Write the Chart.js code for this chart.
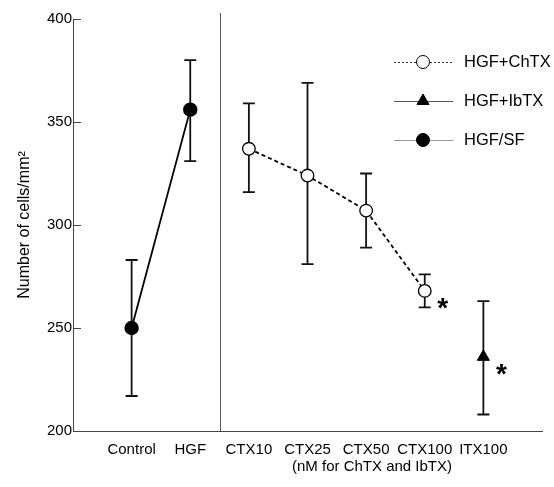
<!DOCTYPE html>
<html>
<head>
<meta charset="utf-8">
<script src="https://cdn.jsdelivr.net/npm/chart.js@4"></script>
<style>
  body { margin: 0; background: #fff; }
</style>
</head>
<body>
<canvas id="chart" width="554" height="487"></canvas>
<script>
// categories on the x axis
const categories = ["Control", "HGF", "CTX10", "CTX25", "CTX50", "CTX100", "ITX100"];
const yTicks = [200, 250, 300, 350, 400];

// HGF/SF
const hgfCats = ["Control", "HGF"];
const hgfMean = [250, 356];
const hgfHigh = [283, 380];
const hgfLow = [217, 331];

// HGF+ChTX
const chtxCats = ["CTX10", "CTX25", "CTX50", "CTX100"];
const chtxMean = [337, 324, 307, 268];
const chtxHigh = [359, 369, 325, 276];
const chtxLow = [316, 281, 289, 260];

// HGF+IbTX
const ibtxCats = ["ITX100"];
const ibtxMean = [236];
const ibtxHigh = [263];
const ibtxLow = [208];

// significant points
const starCats = ["CTX100", "ITX100"];
const starVals = [268, 236];

const FONT = "'Liberation Sans', Arial, sans-serif";

function toPoints(cats, vals) {
  return cats.map((c, i) => ({ x: categories.indexOf(c), y: vals[i] }));
}

// error bars behind markers
const errorBars = {
  id: "errorBars",
  beforeDatasetsDraw(chart) {
    const ctx = chart.ctx;
    const xs = chart.scales.x, ys = chart.scales.y;
    ctx.save();
    ctx.strokeStyle = "#111";
    ctx.lineWidth = 1.8;
    chart.data.datasets.forEach((ds) => {
      ds.data.forEach((p, i) => {
        const x = xs.getPixelForValue(p.x);
        const top = ys.getPixelForValue(ds.errHigh[i]);
        const bot = ys.getPixelForValue(ds.errLow[i]);
        ctx.beginPath();
        ctx.moveTo(x, top); ctx.lineTo(x, bot);
        ctx.moveTo(x - 6, top); ctx.lineTo(x + 6, top);
        ctx.moveTo(x - 6, bot); ctx.lineTo(x + 6, bot);
        ctx.stroke();
      });
    });
    // divider between HGF and CTX groups
    const dx = Math.round(xs.getPixelForValue(1.5)) + 0.5;
    ctx.strokeStyle = "#555";
    ctx.lineWidth = 1;
    ctx.beginPath();
    ctx.moveTo(dx, chart.chartArea.top - 6);
    ctx.lineTo(dx, chart.chartArea.bottom);
    ctx.stroke();
    ctx.restore();
  }
};

// legend, asterisks and the x axis note
const extras = {
  id: "extras",
  afterDraw(chart) {
    const ctx = chart.ctx;
    const xs = chart.scales.x, ys = chart.scales.y;
    ctx.save();

    const items = [
      { text: "HGF+ChTX", dash: [2, 2], line: "#333", style: "circle", r: 6.5, fill: "#fff" },
      { text: "HGF+IbTX", dash: [], line: "#555", style: "triangle", r: 7, fill: "#000" },
      { text: "HGF/SF", dash: [], line: "#999", style: "circle", r: 6.5, fill: "#000" }
    ];
    items.forEach((it, i) => {
      const y = 62 + i * 39;
      ctx.setLineDash(it.dash);
      ctx.strokeStyle = it.line;
      ctx.lineWidth = 1;
      ctx.beginPath();
      ctx.moveTo(394, y + 0.5); ctx.lineTo(453, y + 0.5);
      ctx.stroke();
      ctx.setLineDash([]);
      ctx.fillStyle = it.fill;
      ctx.strokeStyle = "#000";
      Chart.helpers.drawPoint(ctx, { pointStyle: it.style, radius: it.r, rotation: 0, borderWidth: 1 }, 423, y);
      ctx.fillStyle = "#000";
      ctx.font = "16.5px " + FONT;
      ctx.textBaseline = "middle";
      ctx.textAlign = "left";
      ctx.fillText(it.text, 464, y);
    });

    ctx.font = "bold 28px " + FONT;
    ctx.textAlign = "center";
    ctx.textBaseline = "alphabetic";
    starCats.forEach((c, i) => {
      const x = xs.getPixelForValue(categories.indexOf(c)) + 18;
      const y = ys.getPixelForValue(starVals[i]) + 26;
      ctx.fillText("*", x, y);
    });

    ctx.font = "15px " + FONT;
    ctx.textBaseline = "middle";
    ctx.fillText("(nM for ChTX and IbTX)", xs.getPixelForValue(4.1), 467);
    ctx.restore();
  }
};

new Chart(document.getElementById("chart"), {
  type: "scatter",
  data: {
    datasets: [
      {
        label: "HGF/SF",
        data: toPoints(hgfCats, hgfMean),
        errHigh: hgfHigh, errLow: hgfLow,
        showLine: true,
        borderColor: "#000",
        borderWidth: 1.8,
        pointStyle: "circle",
        pointRadius: 6.3,
        pointBackgroundColor: "#000",
        pointBorderColor: "#000"
      },
      {
        label: "HGF+ChTX",
        data: toPoints(chtxCats, chtxMean),
        errHigh: chtxHigh, errLow: chtxLow,
        showLine: true,
        borderColor: "#000",
        borderWidth: 1.8,
        borderDash: [4, 3],
        pointStyle: "circle",
        pointRadius: 6.3,
        pointBackgroundColor: "#fff",
        pointBorderColor: "#000",
        pointBorderWidth: 1.3
      },
      {
        label: "HGF+IbTX",
        data: toPoints(ibtxCats, ibtxMean),
        errHigh: ibtxHigh, errLow: ibtxLow,
        showLine: false,
        pointStyle: "triangle",
        pointRadius: 7,
        pointBackgroundColor: "#000",
        pointBorderColor: "#000"
      }
    ]
  },
  options: {
    responsive: false,
    animation: false,
    devicePixelRatio: 1,
    layout: { padding: { top: 19, right: 12, left: 0, bottom: 0 } },
    plugins: { legend: { display: false }, tooltip: { enabled: false } },
    scales: {
      x: {
        type: "linear",
        min: -1,
        max: 7,
        afterFit: (s) => { s.height = 56; },
        afterBuildTicks: (s) => { s.ticks = categories.map((c, i) => ({ value: i })); },
        ticks: {
          autoSkip: false,
          maxRotation: 0,
          padding: 10,
          color: "#000",
          font: { family: FONT, size: 15 },
          callback: (v) => categories[v] || ""
        },
        grid: { display: false, drawTicks: false },
        border: { display: true, color: "#444", width: 1 }
      },
      y: {
        min: 200,
        max: 400,
        afterFit: (s) => { s.width = 73; },
        afterBuildTicks: (s) => { s.ticks = yTicks.map((v) => ({ value: v })); },
        ticks: {
          padding: 9,
          color: "#000",
          font: { family: FONT, size: 15 }
        },
        grid: { display: true, drawOnChartArea: false, drawTicks: true, tickLength: -8, color: "#444" },
        border: { display: true, color: "#444", width: 1 },
        title: {
          display: true,
          text: "Number of cells/mm²",
          color: "#000",
          font: { family: FONT, size: 16 },
          padding: { top: 15, bottom: 0 }
        }
      }
    }
  },
  plugins: [errorBars, extras]
});
</script>
</body>
</html>
